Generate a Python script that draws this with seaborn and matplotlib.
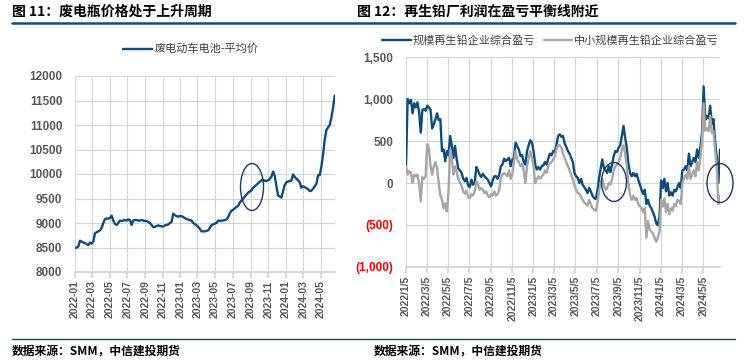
import numpy as np
import pandas as pd
import seaborn as sns
import matplotlib.pyplot as plt
from matplotlib.patches import Ellipse
from matplotlib.lines import Line2D

# ---- data: left panel (废电动车电池-平均价) ----
left_start, left_end = "2022-01-01", "2024-06-18"
left_values = [
    8490, 8500, 8520, 8640, 8620, 8600, 8590, 8570, 8550, 8600, 8580, 8620,
    8790, 8810, 8830, 8850, 8900, 9000, 9080, 9090, 9090, 9100, 9150, 9050,
    8980, 8960, 9000, 9050, 9040, 9050, 9060, 9050, 9070, 9060, 8960, 9050,
    9060, 9060, 9050, 9050, 9060, 9050, 9040, 9040, 9020, 9000, 8960, 8920,
    8920, 8940, 8950, 8940, 8930, 8930, 8950, 8960, 8970, 9000, 9020, 9190,
    9160, 9140, 9130, 9140, 9140, 9120, 9100, 9080, 9070, 9060, 9050, 9000,
    8980, 8950, 8920, 8880, 8830, 8830, 8830, 8840, 8850, 8900, 8960, 8970,
    8990, 9000, 9050, 9040, 9050, 9050, 9060, 9070, 9120, 9200, 9250, 9270,
    9300, 9330, 9350, 9420, 9460, 9500, 9540, 9580, 9620, 9640, 9670, 9720,
    9750, 9780, 9810, 9840, 9870, 9880, 9860, 9860, 9870, 9900, 9950, 10050,
    9960, 9750, 9560, 9540, 9520, 9650, 9780, 9830, 9850, 9850, 9870, 9990,
    9940, 9900, 9870, 9830, 9720, 9750, 9730, 9710, 9690, 9650, 9660, 9700,
    9750, 9800, 9970, 9980, 10150, 10400, 10700, 10900, 10950, 11000, 11150,
    11350, 11600,
]
left_ticks = ["2022-01", "2022-03", "2022-05", "2022-07", "2022-09", "2022-11",
              "2023-01", "2023-03", "2023-05", "2023-07", "2023-09", "2023-11",
              "2024-01", "2024-03", "2024-05"]
left_yticks = [8000, 8500, 9000, 9500, 10000, 10500, 11000, 11500, 12000]

# ---- data: right panel (再生铅企业盈亏) ----
right_start, right_end = "2022-01-05", "2024-06-22"
big_values = [
    200, 1000, 950, 990, 830, 950, 900, 960, 850, 600, 870, 880, 860, 920, 900,
    870, 650, 700, 760, 830, 750, 760, 380, 400, 260, 380, 330, 560, 450, 300,
    440, 280, 170, 150, 120, 50, 20, 60, -30, -50, 40, -20, 0, 190, 150, 100,
    70, 110, 80, 60, 40, 0, -40, 30, 80, 80, 50, 100, 200, 220, 290, 260, 280,
    300, 200, 280, 300, 480, 440, 400, 320, 330, 250, 220, 380, 450, 510, 480,
    380, 220, 160, 190, 160, 200, 210, 250, 220, 290, 350, 330, 380, 370, 450,
    560, 580, 550, 560, 470, 430, 380, 350, 300, 250, 120, 80, 60, 0, 50, -20,
    -50, -80, -120, -60, -100, -150, -180, -190, -100, 50, 170, 280, 180, 150,
    120, 200, 130, 220, 320, 380, 370, 420, 450, 560, 680, 540, 420, 230, 120,
    80, 120, 80, 110, 40, -20, -80, -130, -80, -250, -200, -270, -300, -350,
    -400, -480, -500, -400, 30, -60, 50, -100, 0, -150, -110, -150, -80, -100,
    -50, 0, -60, 150, 160, 200, 150, 350, 200, 250, 300, 250, 400, 300, 420,
    600, 1150, 750, 800, 770, 920, 700, 760, 500, 300, 0, 400,
]
small_values = [
    200, 100, 140, 120, 0, 100, 80, 100, 0, -220, 70, 50, 80, 460, 420, 200,
    100, 200, 250, 180, 0, -150, -200, -300, -240, -340, -100, 400, 300, 100,
    200, 130, 50, 0, -30, -100, -130, -90, -170, -180, -130, -150, -100, 20,
    -20, -80, -60, -80, -120, -100, -150, -170, -130, -150, -100, -150, -130,
    -80, 60, 100, 120, 100, 80, 150, 50, 100, 250, 380, 280, 250, 200, 230,
    150, 0, 200, 300, 380, 300, 200, 0, 50, 80, 50, 80, 100, 150, 120, 200,
    230, 250, 280, 320, 400, 450, 450, 420, 350, 300, 250, 200, 150, 100, 50,
    -30, -80, -120, -130, -160, -200, -230, -250, -270, -200, -250, -300,
    -320, -330, -250, -100, 0, 50, -30, -80, -60, 0, -20, 50, 150, 200, 220,
    250, 300, 400, 450, 350, 200, 0, -150, -200, -150, -200, -180, -250, -280,
    -300, -350, -300, -650, -450, -550, -580, -600, -650, -700, -650, -580,
    -200, -280, -180, -350, -250, -370, -300, -330, -250, -270, -200, -220,
    -250, 0, 50, 100, 50, 200, 50, 100, 150, 80, 250, 150, 300, 500, 950, 620,
    650, 620, 800, 600, 620, 400, 200, -250, -150,
]
right_ticks = ["2022/1/5", "2022/3/5", "2022/5/5", "2022/7/5", "2022/9/5",
               "2022/11/5", "2023/1/5", "2023/3/5", "2023/5/5", "2023/7/5",
               "2023/9/5", "2023/11/5", "2024/1/5", "2024/3/5", "2024/5/5"]
right_yticks = [-1000, -500, 0, 500, 1000, 1500]

left_df = pd.DataFrame({
    "date": pd.date_range(left_start, left_end, periods=len(left_values)),
    "price": left_values,
})
big_df = pd.DataFrame({
    "date": pd.date_range(right_start, right_end, periods=len(big_values)),
    "profit": big_values,
})
small_df = pd.DataFrame({
    "date": pd.date_range(right_start, right_end, periods=len(small_values)),
    "profit": small_values,
})

BLUE = "#0d4c7d"
GRAY = "#a6a6a6"
TXT = "#595959"
CJK = ["Noto Sans CJK SC", "DejaVu Sans"]

sns.set_theme(style="white")
plt.rcParams["font.family"] = ["Liberation Sans", "Noto Sans CJK SC", "DejaVu Sans"]

fig = plt.figure(figsize=(7.45, 3.62), dpi=100)
ax1 = fig.add_axes([75 / 745, 1 - 272 / 362, 260 / 745, 196 / 362])
ax2 = fig.add_axes([406 / 745, 1 - 267 / 362, 314 / 745, 210 / 362])

# ---- left chart ----
sns.lineplot(data=left_df, x="date", y="price", ax=ax1, color=BLUE, lw=1.7)
ax1.set_xlim(pd.Timestamp(left_start), pd.Timestamp(left_end) + pd.Timedelta(days=1))
ax1.set_ylim(8000, 12000)
ax1.set_yticks(left_yticks)
ax1.set_yticklabels([str(v) for v in left_yticks])
ax1.set_xticks([pd.Timestamp(t + "-01") for t in left_ticks])
ax1.set_xticklabels(left_ticks, rotation=90)

# ---- right chart ----
sns.lineplot(data=big_df, x="date", y="profit", ax=ax2, color=BLUE, lw=1.7)
sns.lineplot(data=small_df, x="date", y="profit", ax=ax2, color=GRAY, lw=1.7)
ax2.set_xlim(pd.Timestamp(right_start), pd.Timestamp(right_end))
ax2.set_ylim(-1000, 1500)
ax2.set_yticks(right_yticks)
ylabels = []
for v in right_yticks:
    s = f"{abs(v):,}"
    ylabels.append(f"({s})" if v < 0 else s)
ax2.set_yticklabels(ylabels)
for lab, v in zip(ax2.get_yticklabels(), right_yticks):
    lab.set_color("#ff0000" if v < 0 else TXT)
ax2.set_xticks([pd.Timestamp(t.replace("/", "-")) for t in right_ticks])
ax2.set_xticklabels(right_ticks, rotation=90)

for ax in (ax1, ax2):
    ax.set_xlabel("")
    ax.set_ylabel("")
    ax.grid(True, color="#d4d4d4", lw=0.8)
    ax.set_axisbelow(True)
    for side in ("top", "right", "left"):
        ax.spines[side].set_visible(False)
    ax.spines["bottom"].set_color("#d4d4d4")
    ax.tick_params(axis="x", direction="out", length=4, color="#d4d4d4",
                   labelsize=7.5, labelcolor=TXT, pad=2, bottom=True)
    ax.tick_params(axis="y", length=0, labelsize=8.5, pad=9)
    for lab in ax.get_xticklabels() + ax.get_yticklabels():
        lab.set_fontweight("bold")
for lab in ax1.get_yticklabels():
    lab.set_color(TXT)

# ---- legends ----
fig.add_artist(Line2D([123 / 745, 152 / 745], [1 - 49 / 362] * 2, color=BLUE, lw=1.7))
fig.text(155 / 745, 1 - 49 / 362, "废电动车电池-平均价", family=CJK, fontsize=8,
         color="#404040", va="center")
fig.add_artist(Line2D([382 / 745, 411 / 745], [1 - 40 / 362] * 2, color=BLUE, lw=1.7))
fig.text(413 / 745, 1 - 40 / 362, "规模再生铅企业综合盈亏", family=CJK, fontsize=8,
         color="#404040", va="center")
fig.add_artist(Line2D([544 / 745, 572 / 745], [1 - 40 / 362] * 2, color=GRAY, lw=1.7))
fig.text(574 / 745, 1 - 40 / 362, "中小规模再生铅企业综合盈亏", family=CJK, fontsize=8,
         color="#404040", va="center")

# ---- highlight circles ----
for cx, cy, w, h in [(252, 187, 23, 47), (614, 182, 25, 39), (720, 183, 26, 39)]:
    fig.add_artist(Ellipse((cx / 745, 1 - cy / 362), w / 745, h / 362,
                           fill=False, ec="#1f3864", lw=1.0))

# ---- titles, rules, footers ----
fig.text(12 / 745, 1 - 12 / 362, "图 11：废电瓶价格处于上升周期", family=CJK,
         fontsize=10, fontweight="bold", color="black", va="center")
fig.text(357 / 745, 1 - 12 / 362, "图 12：再生铅厂利润在盈亏平衡线附近", family=CJK,
         fontsize=10, fontweight="bold", color="black", va="center")
fig.add_artist(Line2D([12 / 745, 735 / 745], [1 - 22.5 / 362] * 2, color="#0d4c7d", lw=1.8))
fig.add_artist(Line2D([12 / 745, 735 / 745], [1 - 339 / 362] * 2, color="#0d4c7d", lw=1.0))
fig.text(12 / 745, 1 - 352 / 362, "数据来源：SMM，中信建投期货", family=CJK,
         fontsize=8.5, fontstyle="italic", fontweight="bold", color="black", va="center")
fig.text(374 / 745, 1 - 352 / 362, "数据来源：SMM，中信建投期货", family=CJK,
         fontsize=8.5, fontstyle="italic", fontweight="bold", color="black", va="center")

fig.savefig("out.png", dpi=100)
